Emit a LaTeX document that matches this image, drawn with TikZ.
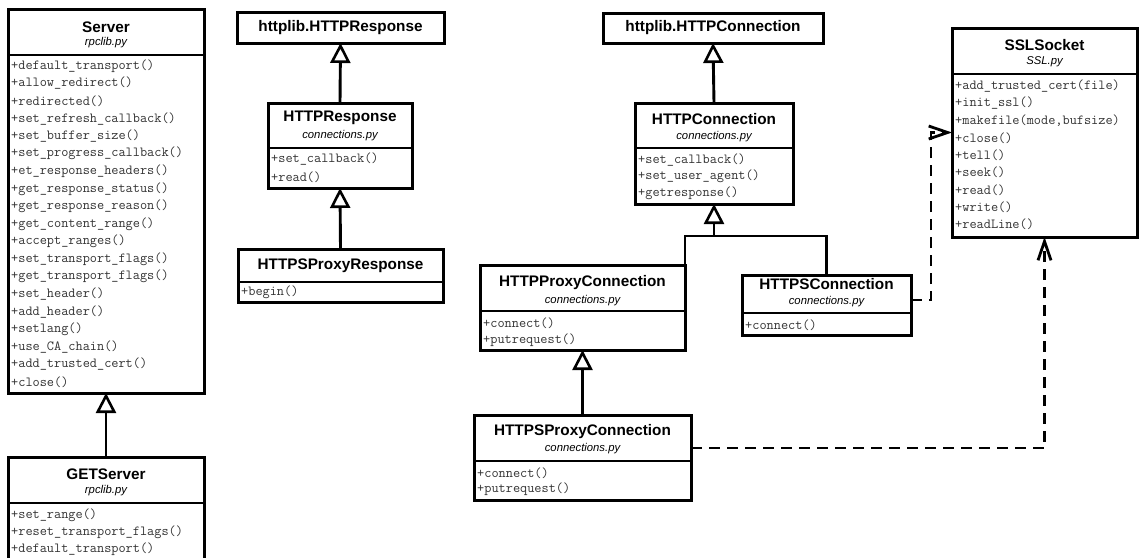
\documentclass[tikz,border=0pt]{standalone}
\usepackage{fontspec}
\setmainfont{Liberation Sans}
\usetikzlibrary{arrows.meta,calc}
\tikzset{
  cbox/.style={draw, line width=3pt, inner sep=0pt, outer sep=0pt, anchor=north west, fill=white},
  sepl/.style={line width=2.4pt},
  ttl/.style={font=\fontsize{15.3}{18}\selectfont\bfseries, inner sep=0pt},
  sub/.style={font=\fontsize{11.3}{13}\selectfont\itshape, inner sep=0pt},
  mth/.style={font=\fontsize{13.9}{16}\ttfamily, anchor=west, inner sep=0pt, text=black!80},
  conn/.style={line width=2.9pt},
  inh/.style={line width=2.9pt, -{Triangle[open, length=20pt, width=20pt, line width=2.6pt]}},
  dep/.style={line width=2.8pt, dash pattern=on 11pt off 7pt, -{Straight Barb[length=19pt, width=13pt, line width=2.8pt]}},
}
\newcommand\mlist[4]{%
  \foreach \m [count=\i from 0, evaluate=\i as \yy using #2+\i*#3] in {#4} {\node[mth] at (#1,\yy) {\m};}}
\begin{document}
\begin{tikzpicture}[x=1pt,y=-1pt]
\useasboundingbox (0,0) rectangle (1139,557);
\clip (0,0) rectangle (1139,557);

% Server
\node[cbox, minimum width=196pt, minimum height=384pt] (srv) at (8,9) {};
\node[ttl] (srvT) at (106,27) {Server};
\node[sub] (srvS) at (106,43) {rpclib.py};
\draw[sepl] (srv.west |- 0,55) -- (srv.east |- 0,55);
\mlist{11}{66}{17.55}{+default\_transport(),+allow\_redirect(),+redirected(),+set\_refresh\_callback(),+set\_buffer\_size(),+set\_progress\_callback(),+et\_response\_headers(),+get\_response\_status(),+get\_response\_reason(),+get\_content\_range(),+accept\_ranges(),+set\_transport\_flags(),+get\_transport\_flags(),+set\_header(),+add\_header(),+setlang(),+use\_CA\_chain(),+add\_trusted\_cert(),+close()}

% GETServer
\node[cbox, minimum width=196pt, minimum height=113pt] (get) at (8,457) {};
\node[ttl] (getT) at (106,474) {GETServer};
\node[sub] (getS) at (106,491) {rpclib.py};
\draw[sepl] (get.west |- 0,503) -- (get.east |- 0,503);
\mlist{11}{515}{17.2}{+set\_range(),+reset\_transport\_flags(),+default\_transport()}

% httplib.HTTPResponse
\node[cbox, minimum width=207pt, minimum height=31pt] (hlr) at (237,12) {};
\node[ttl] (hlrT) at (hlr.center) {httplib.HTTPResponse};

% HTTPResponse
\node[cbox, minimum width=144pt, minimum height=85pt] (hr) at (268,103) {};
\node[ttl] (hrT) at (340,118) {HTTPResponse};
\node[sub] (hrS) at (340,136) {connections.py};
\draw[sepl] (hr.west |- 0,148) -- (hr.east |- 0,148);
\mlist{271}{159.5}{17.5}{+set\_callback(),+read()}

% HTTPSProxyResponse
\node[cbox, minimum width=205pt, minimum height=53pt] (hpr) at (238,249) {};
\node[ttl] (hprT) at (340.5,266) {HTTPSProxyResponse};
\draw[sepl] (hpr.west |- 0,282) -- (hpr.east |- 0,282);
\mlist{241}{292}{17}{+begin()}

% httplib.HTTPConnection
\node[cbox, minimum width=220pt, minimum height=30pt] (hlc) at (603,13) {};
\node[ttl] (hlcT) at (hlc.center) {httplib.HTTPConnection};

% HTTPConnection
\node[cbox, minimum width=158pt, minimum height=101pt] (hc) at (635,103) {};
\node[ttl] (hcT) at (714,119) {HTTPConnection};
\node[sub] (hcS) at (714,137) {connections.py};
\draw[sepl] (hc.west |- 0,148) -- (hc.east |- 0,148);
\mlist{638}{160}{16.7}{+set\_callback(),+set\_user\_agent(),+getresponse()}

% HTTPProxyConnection
\node[cbox, minimum width=205pt, minimum height=85pt] (hpc) at (480,265) {};
\node[ttl] (hpcT) at (582.5,283) {HTTPProxyConnection};
\node[sub] (hpcS) at (582.5,301) {connections.py};
\draw[sepl] (hpc.west |- 0,311) -- (hpc.east |- 0,311);
\mlist{483}{323}{17}{+connect(),+putrequest()}

% HTTPSConnection
\node[cbox, minimum width=169pt, minimum height=60pt] (hsc) at (742,275) {};
\node[ttl] (hscT) at (826.5,284) {HTTPSConnection};
\node[sub] (hscS) at (826.5,302) {connections.py};
\draw[sepl] (hsc.west |- 0,313) -- (hsc.east |- 0,313);
\mlist{745}{325}{17}{+connect()}

% HTTPSProxyConnection
\node[cbox, minimum width=217pt, minimum height=85pt] (hspc) at (474,415) {};
\node[ttl] (hspcT) at (582.5,432) {HTTPSProxyConnection};
\node[sub] (hspcS) at (582.5,449) {connections.py};
\draw[sepl] (hspc.west |- 0,461) -- (hspc.east |- 0,461);
\mlist{477}{473}{16.5}{+connect(),+putrequest()}

% SSLSocket
\node[cbox, minimum width=185pt, minimum height=209pt] (ssl) at (952,28) {};
\node[ttl] (sslT) at (1044.5,45) {SSLSocket};
\node[sub] (sslS) at (1044.5,62) {SSL.py};
\draw[sepl] (ssl.west |- 0,74) -- (ssl.east |- 0,74);
\mlist{955}{86}{17.3}{+add\_trusted\_cert(file),+init\_ssl(),{+makefile(mode,bufsize)},+close(),+tell(),+seek(),+read(),+write(),+readLine()}

% inheritance
\draw[inh] (get.north) -- (srv.south);
\draw[inh] (hr.north) -- (hlr.south);
\draw[inh] (hpr.north) -- (hr.south);
\draw[inh] (hc.north) -- (hlc.south);
\coordinate (br) at (hc.south |- 0,236);
\draw[conn] (hpc.north east) |- (br) -| (hsc.north);
\draw[inh] (br) -- (hc.south);
\draw[inh] (hspc.north) -- (hpc.south);

% dependencies
\draw[dep] ([yshift=5pt]hsc.east) -- ++(20,0) |- (ssl.west);
\draw[dep] ([yshift=9.5pt]hspc.east) -| (ssl.south);
\end{tikzpicture}
\end{document}
